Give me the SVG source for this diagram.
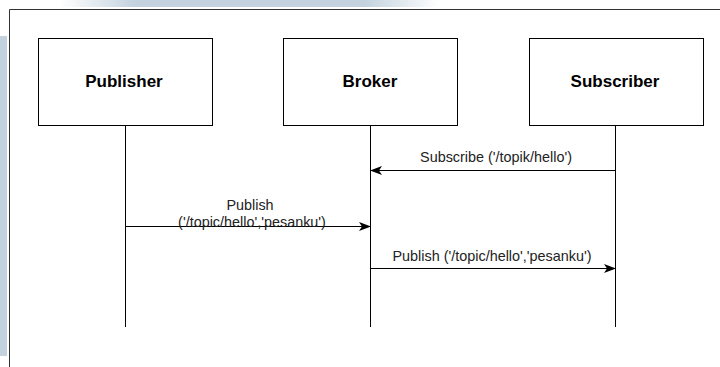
<svg xmlns="http://www.w3.org/2000/svg" width="720" height="367" viewBox="0 0 720 367">
<defs>
<linearGradient id="topband" x1="0" y1="0" x2="1" y2="0">
<stop offset="0" stop-color="#c3d2de" stop-opacity="0"/>
<stop offset="0.2" stop-color="#c3d2de"/>
<stop offset="0.8" stop-color="#c3d2de"/>
<stop offset="1" stop-color="#c3d2de" stop-opacity="0"/>
</linearGradient>
<marker id="arr" viewBox="0 0 12 10" refX="11" refY="5" markerWidth="12" markerHeight="10" markerUnits="userSpaceOnUse" orient="auto">
<path d="M0,0.5 L12,5 L0,9.5 L3,5 Z" fill="#000"/>
</marker>
</defs>
<style>
.box{fill:#fff;stroke:#000;stroke-width:1}
.title{font-family:"Liberation Sans",Arial,sans-serif;font-size:17px;font-weight:bold;fill:#000;text-anchor:middle}
.life{stroke:#000;stroke-width:1;fill:none}
.msg{stroke:#000;stroke-width:1.2;fill:none;marker-end:url(#arr)}
.lbl{font-family:"Liberation Sans",Arial,sans-serif;font-size:14.4px;fill:#222;text-anchor:middle}
</style>
<rect x="0" y="0" width="720" height="367" fill="#fff"/>
<rect x="60" y="0" width="380" height="7" fill="url(#topband)"/>
<rect x="0" y="36" width="7" height="320" fill="#c3d2de"/>
<path d="M9.5,367 V9.5 H720" fill="none" stroke="#333" stroke-width="1"/>
<g id="publisher">
<rect class="box" x="38.5" y="38.5" width="174" height="87"/>
<text class="title" x="124" y="87">Publisher</text>
</g>
<g id="broker">
<rect class="box" x="283.5" y="38.5" width="174" height="87"/>
<text class="title" x="370" y="87">Broker</text>
</g>
<g id="subscriber">
<rect class="box" x="529.5" y="38.5" width="174" height="87"/>
<text class="title" x="615" y="87">Subscriber</text>
</g>
<g id="connectors">
<line class="life" x1="125.5" y1="125.5" x2="125.5" y2="327"/>
<line class="life" x1="370.5" y1="125.5" x2="370.5" y2="327"/>
<line class="life" x1="615.5" y1="125.5" x2="615.5" y2="327"/>
<line class="msg" x1="615.5" y1="170.5" x2="371" y2="170.5"/>
<text class="lbl" x="496" y="161.5">Subscribe ('/topik/hello')</text>
<line class="msg" x1="125.5" y1="226.5" x2="370" y2="226.5"/>
<text class="lbl" x="250" y="210">Publish</text>
<text class="lbl" x="252" y="226.5">('/topic/hello','pesanku')</text>
<line class="msg" x1="370.5" y1="268.5" x2="615" y2="268.5"/>
<text class="lbl" x="492" y="261">Publish ('/topic/hello','pesanku')</text>
</g>
</svg>
